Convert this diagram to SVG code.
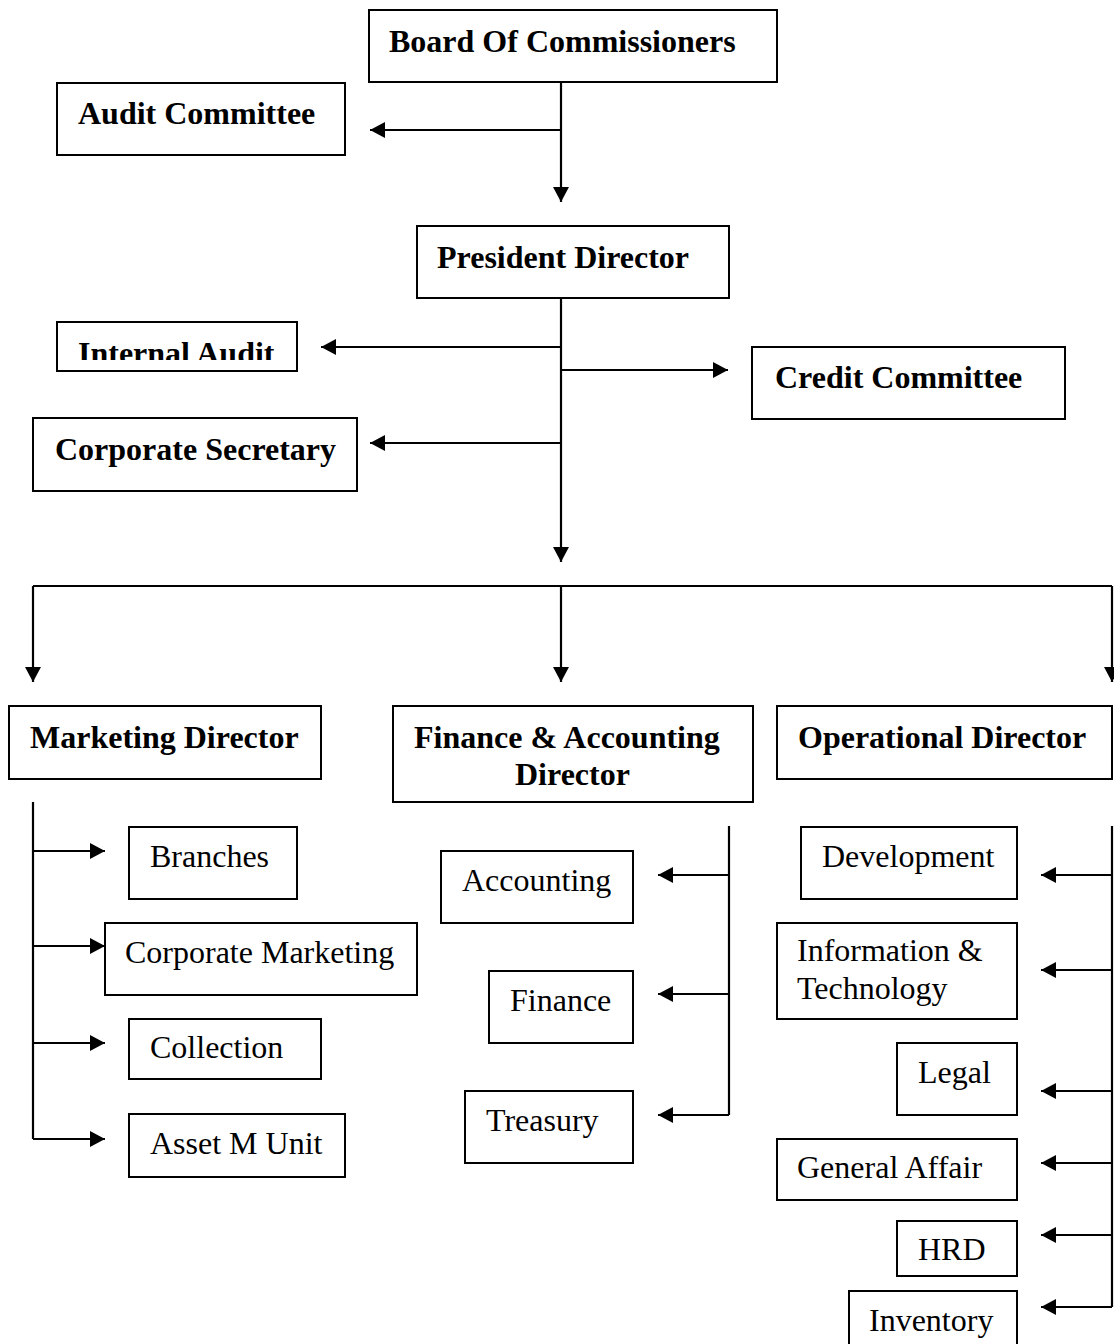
<svg xmlns="http://www.w3.org/2000/svg" width="1114" height="1344" viewBox="0 0 1114 1344">
<style>
.box{fill:#fff;stroke:#000;stroke-width:2}
.b{font-family:"Liberation Serif","Times New Roman",serif;font-size:32px;font-weight:bold;fill:#000}
.r{font-family:"Liberation Serif","Times New Roman",serif;font-size:32px;fill:#000}
.ln{fill:none;stroke:#000;stroke-width:2.2}
.ar{fill:none;stroke:#000;stroke-width:2.2;marker-end:url(#ah)}
</style>
<defs>
<marker id="ah" viewBox="0 0 15 16" refX="15" refY="8" markerWidth="15" markerHeight="16" markerUnits="userSpaceOnUse" orient="auto">
<path d="M0,0 L15,8 L0,16 Z" fill="#000"/>
</marker>
<clipPath id="iaclip"><rect x="56" y="322" width="242" height="38"/></clipPath>
</defs>
<rect width="1114" height="1344" fill="#fff"/>
<g id="connectors">
<line class="ln" x1="561" y1="82" x2="561" y2="130"/>
<line class="ar" x1="561" y1="130" x2="561" y2="202"/>
<line class="ar" x1="561" y1="130" x2="370" y2="130"/>
<line class="ln" x1="561" y1="298" x2="561" y2="347"/>
<line class="ar" x1="561" y1="347" x2="561" y2="562"/>
<line class="ar" x1="561" y1="347" x2="321" y2="347"/>
<line class="ar" x1="561" y1="370" x2="728" y2="370"/>
<line class="ar" x1="561" y1="443" x2="370" y2="443"/>
<polyline class="ln" points="33,586 1112,586"/>
<line class="ar" x1="33" y1="586" x2="33" y2="682"/>
<line class="ar" x1="561" y1="586" x2="561" y2="682"/>
<line class="ar" x1="1112" y1="586" x2="1112" y2="682"/>
<line class="ln" x1="33" y1="802" x2="33" y2="1139"/>
<line class="ar" x1="33" y1="851" x2="105" y2="851"/>
<line class="ar" x1="33" y1="946" x2="105" y2="946"/>
<line class="ar" x1="33" y1="1043" x2="105" y2="1043"/>
<line class="ar" x1="33" y1="1139" x2="105" y2="1139"/>
<line class="ln" x1="729" y1="826" x2="729" y2="1115"/>
<line class="ar" x1="729" y1="875" x2="658" y2="875"/>
<line class="ar" x1="729" y1="994" x2="658" y2="994"/>
<line class="ar" x1="729" y1="1115" x2="658" y2="1115"/>
<line class="ln" x1="1112" y1="826" x2="1112" y2="1307"/>
<line class="ar" x1="1112" y1="875" x2="1041" y2="875"/>
<line class="ar" x1="1112" y1="970" x2="1041" y2="970"/>
<line class="ar" x1="1112" y1="1091" x2="1041" y2="1091"/>
<line class="ar" x1="1112" y1="1163" x2="1041" y2="1163"/>
<line class="ar" x1="1112" y1="1235" x2="1041" y2="1235"/>
<line class="ar" x1="1112" y1="1307" x2="1041" y2="1307"/>
</g>
<g id="board"><rect class="box" x="369" y="10" width="408" height="72"/><text class="b" x="389" y="52">Board Of Commissioners</text></g>
<g id="audit-committee"><rect class="box" x="57" y="83" width="288" height="72"/><text class="b" x="78" y="124">Audit Committee</text></g>
<g id="president"><rect class="box" x="417" y="226" width="312" height="72"/><text class="b" x="437" y="268">President Director</text></g>
<g id="internal-audit"><rect class="box" x="57" y="322" width="240" height="49"/><text class="b" x="78" y="364" clip-path="url(#iaclip)">Internal Audit</text></g>
<g id="credit-committee"><rect class="box" x="752" y="347" width="313" height="72"/><text class="b" x="775" y="388">Credit Committee</text></g>
<g id="corporate-secretary"><rect class="box" x="33" y="418" width="324" height="73"/><text class="b" x="55" y="460">Corporate Secretary</text></g>
<g id="marketing-director"><rect class="box" x="9" y="706" width="312" height="73"/><text class="b" x="30" y="748">Marketing Director</text></g>
<g id="finance-director"><rect class="box" x="393" y="706" width="360" height="96"/><text class="b" x="414" y="748">Finance &amp; Accounting</text><text class="b" x="515" y="785">Director</text></g>
<g id="operational-director"><rect class="box" x="777" y="706" width="335" height="73"/><text class="b" x="798" y="748">Operational Director</text></g>
<g id="branches"><rect class="box" x="129" y="827" width="168" height="72"/><text class="r" x="150" y="867">Branches</text></g>
<g id="corporate-marketing"><rect class="box" x="105" y="923" width="312" height="72"/><text class="r" x="125" y="963">Corporate Marketing</text></g>
<g id="collection"><rect class="box" x="129" y="1019" width="192" height="60"/><text class="r" x="150" y="1058">Collection</text></g>
<g id="asset-m-unit"><rect class="box" x="129" y="1114" width="216" height="63"/><text class="r" x="150" y="1154">Asset M Unit</text></g>
<g id="accounting"><rect class="box" x="441" y="851" width="192" height="72"/><text class="r" x="462" y="891">Accounting</text></g>
<g id="finance"><rect class="box" x="489" y="971" width="144" height="72"/><text class="r" x="510" y="1011">Finance</text></g>
<g id="treasury"><rect class="box" x="465" y="1091" width="168" height="72"/><text class="r" x="486" y="1131">Treasury</text></g>
<g id="development"><rect class="box" x="801" y="827" width="216" height="72"/><text class="r" x="822" y="867">Development</text></g>
<g id="info-tech"><rect class="box" x="777" y="923" width="240" height="96"/><text class="r" x="797" y="961">Information &amp;</text><text class="r" x="797" y="999">Technology</text></g>
<g id="legal"><rect class="box" x="897" y="1043" width="120" height="72"/><text class="r" x="918" y="1083">Legal</text></g>
<g id="general-affair"><rect class="box" x="777" y="1139" width="240" height="61"/><text class="r" x="797" y="1178">General Affair</text></g>
<g id="hrd"><rect class="box" x="897" y="1221" width="120" height="55"/><text class="r" x="918" y="1260">HRD</text></g>
<g id="inventory"><rect class="box" x="849" y="1291" width="168" height="72"/><text class="r" x="869" y="1331">Inventory</text></g>
</svg>
